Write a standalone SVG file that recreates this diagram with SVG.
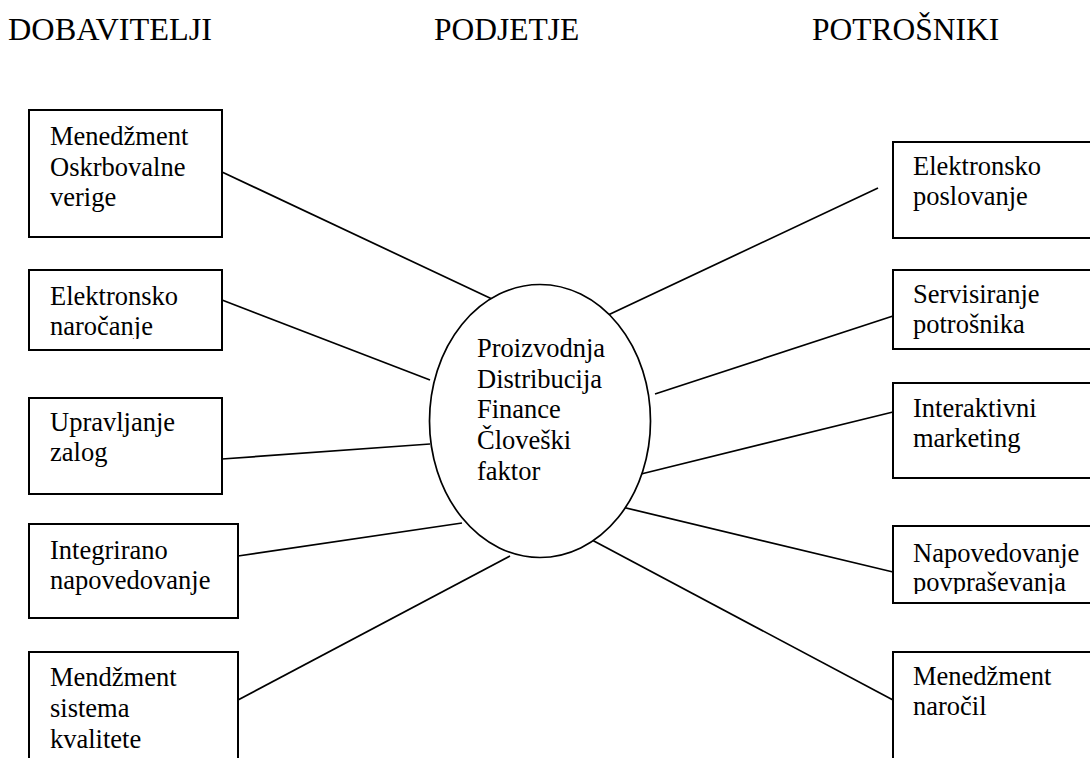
<svg xmlns="http://www.w3.org/2000/svg" width="1090" height="758" viewBox="0 0 1090 758">
  <style>
    text { font-family: "Liberation Serif", "Times New Roman", serif; fill: #000; }
    .head { font-size: 31.5px; }
    .lbl { font-size: 26.5px; }
    .box { fill: #fff; stroke: #000; stroke-width: 2; }
    .hub { fill: #fff; stroke: #000; stroke-width: 1.7; }
    .link { stroke: #000; stroke-width: 1.7; fill: none; }
  </style>
  <defs>
    <clipPath id="clip-l2"><rect x="29" y="270" width="193" height="69"/></clipPath>
    <clipPath id="clip-r4"><rect x="893" y="526" width="200" height="68"/></clipPath>
  </defs>

  <rect width="1090" height="758" fill="#fff"/>

  <!-- column headings -->
  <g id="headings">
    <text class="head" x="8" y="40" textLength="204" lengthAdjust="spacingAndGlyphs">DOBAVITELJI</text>
    <text class="head" x="434" y="40">PODJETJE</text>
    <text class="head" x="812" y="40">POTROŠNIKI</text>
  </g>

  <!-- spokes from the hub to each box -->
  <g id="connectors">
    <line class="link" x1="222" y1="172" x2="492" y2="299"/>
    <line class="link" x1="222" y1="300" x2="430" y2="380"/>
    <line class="link" x1="222" y1="459" x2="430" y2="444"/>
    <line class="link" x1="238" y1="556" x2="462" y2="523"/>
    <line class="link" x1="238" y1="700" x2="510" y2="556"/>
    <line class="link" x1="606" y1="316" x2="878" y2="188"/>
    <line class="link" x1="655" y1="394" x2="893" y2="316"/>
    <line class="link" x1="637" y1="475" x2="893" y2="412"/>
    <line class="link" x1="622" y1="507" x2="893" y2="572"/>
    <line class="link" x1="592" y1="540" x2="893" y2="700"/>
  </g>

  <!-- central hub -->
  <g id="hub">
    <ellipse class="hub" cx="540" cy="421" rx="110.5" ry="136.5"/>
    <text class="lbl" x="477" y="357">Proizvodnja</text>
    <text class="lbl" x="477" y="388">Distribucija</text>
    <text class="lbl" x="477" y="418">Finance</text>
    <text class="lbl" x="477" y="449">Človeški</text>
    <text class="lbl" x="477" y="480">faktor</text>
  </g>

  <!-- supplier side -->
  <g id="l1">
    <rect class="box" x="29" y="110" width="193" height="127"/>
    <text class="lbl" x="50" y="145">Menedžment</text>
    <text class="lbl" x="50" y="176">Oskrbovalne</text>
    <text class="lbl" x="50" y="206">verige</text>
  </g>
  <g id="l2">
    <rect class="box" x="29" y="270" width="193" height="80"/>
    <g clip-path="url(#clip-l2)">
      <text class="lbl" x="50" y="305">Elektronsko</text>
      <text class="lbl" x="50" y="335">naročanje</text>
    </g>
  </g>
  <g id="l3">
    <rect class="box" x="29" y="398" width="193" height="96"/>
    <text class="lbl" x="50" y="431">Upravljanje</text>
    <text class="lbl" x="50" y="461">zalog</text>
  </g>
  <g id="l4">
    <rect class="box" x="29" y="524" width="209" height="94"/>
    <text class="lbl" x="50" y="559">Integrirano</text>
    <text class="lbl" x="50" y="589">napovedovanje</text>
  </g>
  <g id="l5">
    <rect class="box" x="29" y="652" width="209" height="120"/>
    <text class="lbl" x="50" y="686">Mendžment</text>
    <text class="lbl" x="50" y="717">sistema</text>
    <text class="lbl" x="50" y="748">kvalitete</text>
  </g>

  <!-- customer side -->
  <g id="r1">
    <rect class="box" x="893" y="142" width="210" height="96"/>
    <text class="lbl" x="913" y="175">Elektronsko</text>
    <text class="lbl" x="913" y="205">poslovanje</text>
  </g>
  <g id="r2">
    <rect class="box" x="893" y="270" width="210" height="79"/>
    <text class="lbl" x="913" y="303">Servisiranje</text>
    <text class="lbl" x="913" y="333">potrošnika</text>
  </g>
  <g id="r3">
    <rect class="box" x="893" y="383" width="210" height="95"/>
    <text class="lbl" x="913" y="417">Interaktivni</text>
    <text class="lbl" x="913" y="447">marketing</text>
  </g>
  <g id="r4">
    <rect class="box" x="893" y="526" width="210" height="77"/>
    <g clip-path="url(#clip-r4)">
      <text class="lbl" x="913" y="562">Napovedovanje</text>
      <text class="lbl" x="913" y="591">povpraševanja</text>
    </g>
  </g>
  <g id="r5">
    <rect class="box" x="893" y="652" width="210" height="120"/>
    <text class="lbl" x="913" y="685">Menedžment</text>
    <text class="lbl" x="913" y="715">naročil</text>
  </g>
</svg>
